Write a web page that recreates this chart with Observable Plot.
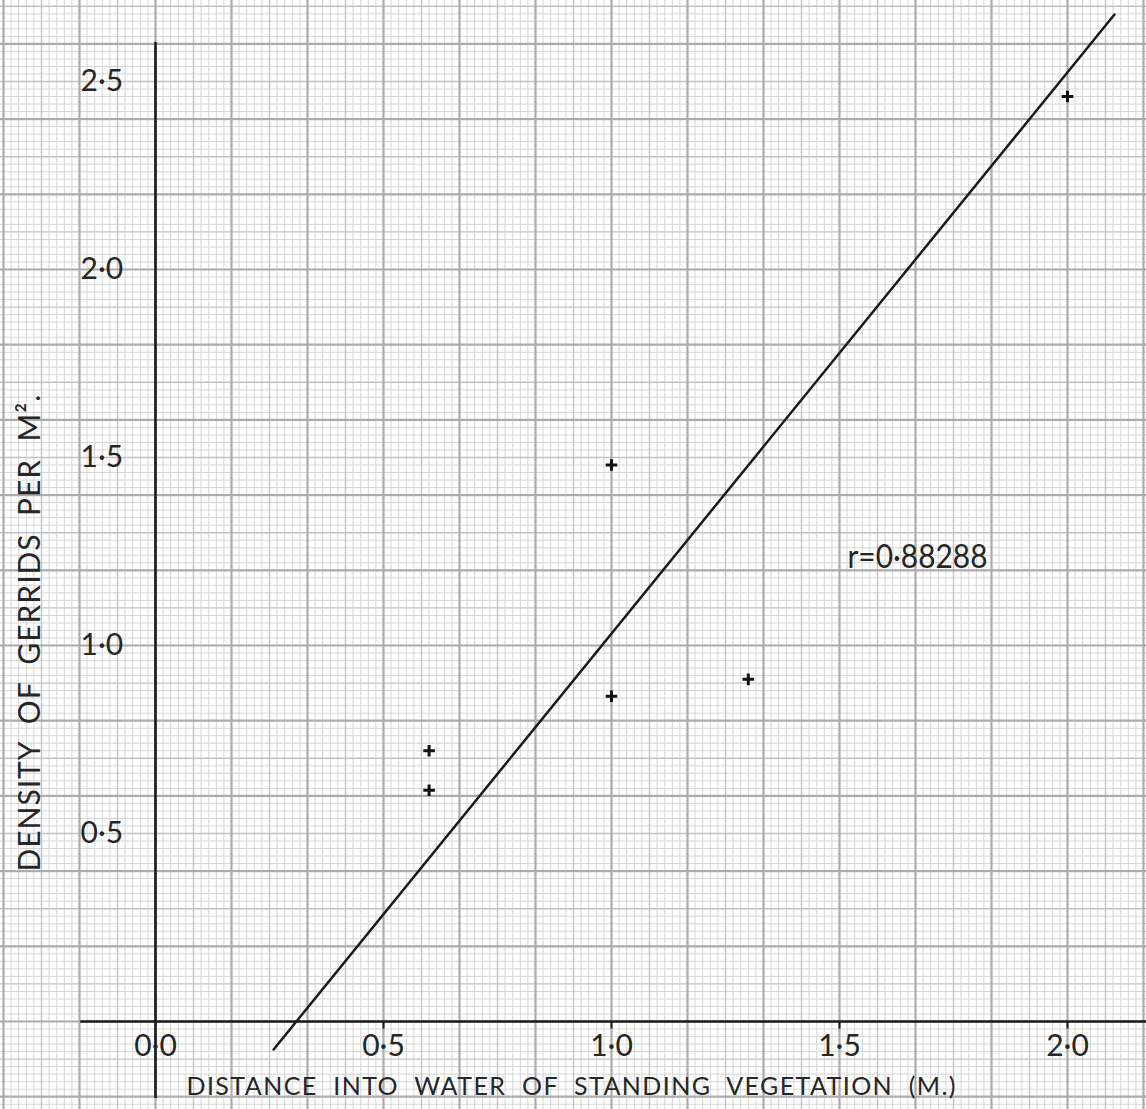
<!DOCTYPE html>
<html>
<head>
<meta charset="utf-8">
<script src="https://cdn.jsdelivr.net/npm/d3@7"></script>
<script src="https://cdn.jsdelivr.net/npm/@observablehq/plot@0.6"></script>
<style>
  html, body { margin: 0; padding: 0; background: #ffffff; }
  #chart svg { display: block; }
</style>
</head>
<body>
<div id="chart"></div>
<script>
// ---- data ----
const distance = [0.6, 0.6, 1.0, 1.0, 1.3, 2.0];          // m
const density  = [0.72, 0.615, 1.48, 0.865, 0.91, 2.46];   // gerrids per m²
const fitX = [0.259, 2.103];                               // drawn fit line ends
const fitY = [-0.0745, 2.678];
const xTicks = [0, 0.5, 1.0, 1.5, 2.0];
const xTickLabels = ["0·0", "0·5", "1·0", "1·5", "2·0"];
const yTicks = [0.5, 1.0, 1.5, 2.0, 2.5];
const yTickLabels = ["0·5", "1·0", "1·5", "2·0", "2·5"];
const xTitle = "DISTANCE  INTO  WATER  OF  STANDING  VEGETATION  (M.)";
const yTitle = "DENSITY  OF  GERRIDS  PER  M².";
const rLabel = "r=0·88288";

const points = distance.map((d, i) => ({x: d, y: density[i]}));
const fit = fitX.map((d, i) => ({x: d, y: fitY[i]}));

// ---- graph-paper background (mm / half-cm / cm rulings) ----
const xDom = [-155 / 456, 991 / 456];
const yDom = [-88 / 376, 1021 / 376];
const gx = d3.range(Math.ceil(xDom[0] * 60), Math.floor(xDom[1] * 60) + 1);
const gy = d3.range(Math.ceil(yDom[0] * 50), Math.floor(yDom[1] * 50) + 1);
const vMinor = gx.filter(k => k % 5 !== 0).map(k => k / 60);
const vMed = gx.filter(k => k % 5 === 0 && k % 10 !== 0).map(k => k / 60);
const vMajor = gx.filter(k => k % 10 === 0).map(k => k / 60);
const hMinor = gy.filter(k => k % 5 !== 0).map(k => k / 50);
const hMed = gy.filter(k => k % 5 === 0 && k % 10 !== 0).map(k => k / 50);
const hMajor = gy.filter(k => k % 10 === 0).map(k => k / 50);

const font = "Lato, 'Open Sans', 'DejaVu Sans', sans-serif";
const ink = "#262626";

const plusSymbol = {
  draw(ctx, size) {
    const r = Math.sqrt(size / Math.PI);
    ctx.moveTo(-r, 0); ctx.lineTo(r, 0);
    ctx.moveTo(0, -r); ctx.lineTo(0, r);
  }
};

const chart = Plot.plot({
  width: 1146,
  height: 1109,
  margin: 0,
  style: {background: "#ffffff", fontFamily: font},
  x: {domain: xDom, axis: null},
  y: {domain: yDom, axis: null},
  marks: [
    Plot.ruleX(vMinor, {stroke: "#d6d6d6", strokeWidth: 1}),
    Plot.ruleY(hMinor, {stroke: "#d6d6d6", strokeWidth: 1}),
    Plot.ruleX(vMed, {stroke: "#c3c3c3", strokeWidth: 1.4}),
    Plot.ruleY(hMed, {stroke: "#c3c3c3", strokeWidth: 1.4}),
    Plot.ruleX(vMajor, {stroke: "#ababab", strokeWidth: 2.2}),
    Plot.ruleY(hMajor, {stroke: "#ababab", strokeWidth: 2.2}),
    // axes
    Plot.ruleY([0], {x1: -0.164, x2: xDom[1], stroke: "#1a1a1a", strokeWidth: 2.6}),
    Plot.ruleX([0], {y1: -0.205, y2: 2.604, stroke: "#1a1a1a", strokeWidth: 2.6}),
    Plot.ruleX(xTicks.filter(d => d > 0), {y1: 0, y2: -0.02, stroke: "#1a1a1a", strokeWidth: 2}),
    // tick labels
    Plot.text(xTicks, {x: d => d, y: 0, text: (d, i) => xTickLabels[i], dy: 25,
      fontSize: 30, fontWeight: 400, fill: ink, textAnchor: "middle", lineAnchor: "middle"}),
    Plot.text(yTicks, {x: 0, y: d => d, text: (d, i) => yTickLabels[i], dx: -75,
      fontSize: 30, fontWeight: 400, fill: ink, textAnchor: "start", lineAnchor: "middle"}),
    // titles
    Plot.text([xTitle], {x: 0.068, y: -0.173, text: d => d, fontSize: 25, fontWeight: 400,
      fill: ink, textAnchor: "start", lineAnchor: "middle"}),
    Plot.text([yTitle], {x: -0.274, y: 1.033, text: d => d, rotate: -90, fontSize: 30, fontWeight: 400,
      fill: ink, textAnchor: "middle", lineAnchor: "middle"}),
    Plot.text([rLabel], {x: 1.5175, y: 1.234, text: d => d, fontSize: 32, fontWeight: 400,
      fill: ink, textAnchor: "start", lineAnchor: "middle"}),
    // fitted line and observations
    Plot.line(fit, {x: "x", y: "y", stroke: "#1a1a1a", strokeWidth: 2.5}),
    Plot.dot(points, {x: "x", y: "y", symbol: plusSymbol, r: 5.8, stroke: "#111", strokeWidth: 3, fill: "none"})
  ]
});

document.getElementById("chart").appendChild(chart);

// stretch the hand-lettered captions to the widths they have in the original
const lengths = new Map([[xTitle, 769], [yTitle, 477], [rLabel, 140]]);
d3.select(chart).selectAll("text").each(function() {
  const t = this.textContent;
  if (lengths.has(t)) {
    this.setAttribute("textLength", lengths.get(t));
    this.setAttribute("lengthAdjust", t === rLabel ? "spacingAndGlyphs" : "spacing");
  }
});
</script>
</body>
</html>
